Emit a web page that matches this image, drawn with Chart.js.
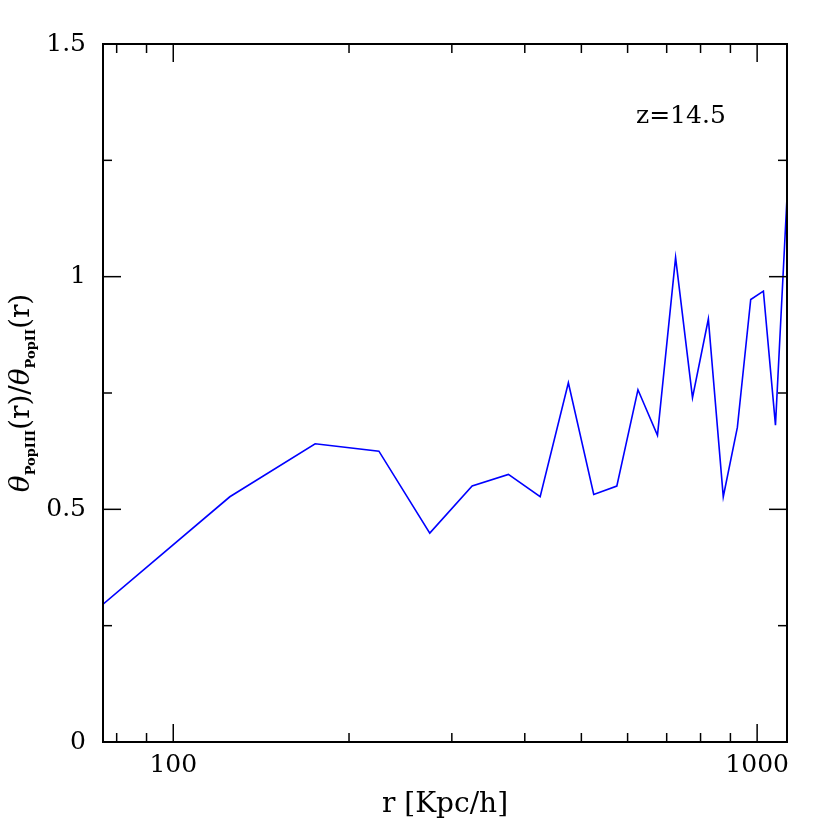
<!DOCTYPE html>
<html><head><meta charset="utf-8">
<script src="https://cdn.jsdelivr.net/npm/chart.js@4"></script>
<style>html,body{margin:0;padding:0;background:#fff;}</style>
</head><body>
<canvas id="c" width="830" height="830" style="width:830px;height:830px;display:block"></canvas>
<script>
// ---- data ----
const radii = [75,125,175,225,275,325,375,425,475,525,575,625,675,725,775,825,875,925,975,1025,1075,1125];
const ratio = [0.291,0.527,0.641,0.625,0.449,0.550,0.575,0.527,0.772,0.532,0.550,0.757,0.659,1.041,0.740,0.909,0.527,0.676,0.951,0.969,0.681,1.170];
const xTicks = [80,90,100,200,300,400,500,600,700,800,900,1000];
const xLabelled = [100,1000];
const yTicks = [0,0.25,0.5,0.75,1,1.25,1.5];
const yLabelled = [0,0.5,1,1.5];
const xRange = [75.8,1125];
const yRange = [0,1.5];
const xTitle = 'r [Kpc/h]';
const yTitleParts = [['θ','main-it'],['PopIII','sub'],['(r)/','main'],['θ','main-it'],['PopII','sub'],['(r)','main']];
const note = 'z=14.5';

const SERIF = '"DejaVu Serif", "Liberation Serif", serif';

const framePlugin = {
  id: 'frame',
  afterDraw(chart) {
    const ctx = chart.ctx, a = chart.chartArea, xs = chart.scales.x, ys = chart.scales.y;
    ctx.save();
    ctx.strokeStyle = '#000';
    ctx.lineWidth = 2;
    ctx.strokeRect(a.left, a.top, a.right - a.left, a.bottom - a.top);
    ctx.lineWidth = 1.5;
    const seg = (x1,y1,x2,y2) => { ctx.beginPath(); ctx.moveTo(x1,y1); ctx.lineTo(x2,y2); ctx.stroke(); };
    xTicks.forEach(v => {
      const px = xs.getPixelForValue(v);
      const L = xLabelled.includes(v) ? 18 : 9;
      seg(px, a.bottom, px, a.bottom - L);
      seg(px, a.top, px, a.top + L);
    });
    yTicks.forEach(v => {
      const py = ys.getPixelForValue(v);
      const L = yLabelled.includes(v) ? 18 : 9;
      seg(a.left, py, a.left + L, py);
      seg(a.right, py, a.right - L, py);
    });
    ctx.fillStyle = '#000';
    // x title
    ctx.font = '28px ' + SERIF;
    ctx.textAlign = 'center';
    ctx.textBaseline = 'alphabetic';
    ctx.fillText(xTitle, (a.left + a.right) / 2, 812);
    // annotation
    ctx.font = '25px ' + SERIF;
    ctx.textAlign = 'left';
    ctx.fillText(note, 636, 123);
    // y title with subscripts
    const fonts = { 'main': '28px ' + SERIF, 'main-it': 'italic 28px ' + SERIF, 'sub': 'bold 13px ' + SERIF };
    const shifts = { 'main': 0, 'main-it': 0, 'sub': 6 };
    let total = 0;
    yTitleParts.forEach(([t,k]) => { ctx.font = fonts[k]; total += ctx.measureText(t).width; });
    ctx.translate(29, (a.top + a.bottom) / 2);
    ctx.rotate(-Math.PI / 2);
    let x = -total / 2;
    yTitleParts.forEach(([t,k]) => {
      ctx.font = fonts[k];
      ctx.fillText(t, x, shifts[k]);
      x += ctx.measureText(t).width;
    });
    ctx.restore();
  }
};

new Chart(document.getElementById('c'), {
  type: 'line',
  data: {
    datasets: [{
      data: radii.map((r, i) => ({ x: r, y: ratio[i] })),
      borderColor: '#0000ff',
      borderWidth: 1.6,
      pointRadius: 0,
      tension: 0,
      fill: false,
      clip: 0
    }]
  },
  options: {
    responsive: false,
    animation: false,
    devicePixelRatio: 1,
    layout: { padding: { left: 0, top: 44, right: 43, bottom: 0 } },
    plugins: { legend: { display: false }, tooltip: { enabled: false }, title: { display: false } },
    scales: {
      x: {
        type: 'logarithmic',
        min: xRange[0], max: xRange[1],
        grid: { display: false, drawTicks: false },
        border: { display: false },
        afterFit: s => { s.height = 88; },
        afterBuildTicks: s => { s.ticks = xTicks.map(v => ({ value: v })); },
        ticks: {
          autoSkip: false, maxRotation: 0, minRotation: 0,
          padding: 8, color: '#000',
          font: { family: SERIF, size: 25 },
          callback: v => xLabelled.includes(v) ? String(v) : ''
        }
      },
      y: {
        type: 'linear',
        min: yRange[0], max: yRange[1],
        grid: { display: false, drawTicks: false },
        border: { display: false },
        afterFit: s => { s.width = 103; },
        afterBuildTicks: s => { s.ticks = yTicks.map(v => ({ value: v })); },
        ticks: {
          autoSkip: false, padding: 17, color: '#000',
          font: { family: SERIF, size: 25 },
          callback: v => yLabelled.includes(v) ? String(v) : ''
        }
      }
    }
  },
  plugins: [framePlugin]
});
</script>
</body></html>
